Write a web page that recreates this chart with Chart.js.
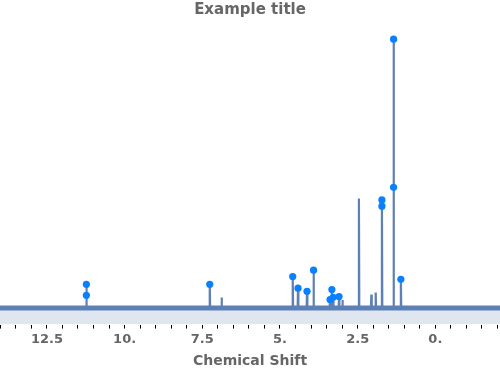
<!DOCTYPE html>
<html>
<head>
<meta charset="utf-8">
<script src="https://cdn.jsdelivr.net/npm/chart.js@4"></script>
<style>
  html, body { margin: 0; padding: 0; background: #fff; }
  #wrap { width: 500px; height: 371px; }
</style>
</head>
<body>
<div id="wrap"><canvas id="nmr"></canvas></div>
<script>
// spectrum peaks (shift in ppm, relative intensity)
var peakShifts  = [11.23, 7.26, 6.88, 4.59, 4.42, 4.13, 3.92, 3.39, 3.33, 3.29, 3.10, 2.99, 2.46, 2.06, 1.92, 1.72, 1.345, 1.11];
var peakHeights = [8.85, 8.85, 3.9, 11.7, 7.4, 6.25, 14.1, 3.2, 6.9, 4.0, 4.3, 3.0, 40.7, 5.0, 5.8, 40.2, 100, 10.7];

// picked peaks (markers)
var markShifts  = [11.23, 11.23, 7.26, 4.59, 4.42, 4.13, 3.92, 3.39, 3.33, 3.29, 3.10, 1.72, 1.72, 1.345, 1.345, 1.11];
var markHeights = [8.85, 4.76, 8.85, 11.7, 7.4, 6.25, 14.1, 3.2, 6.9, 4.0, 4.3, 40.2, 37.9, 100, 44.9, 10.7];

var tickLabels = {"12.5": "12.5", "10": "10.", "7.5": "7.5", "5": "5.", "2.5": "2.5", "0": "0."};

var halfWidth = 0.012;
var spectrum = [];
peakShifts.forEach(function(s, i){
  spectrum.push({x: s + halfWidth, y: 0});
  spectrum.push({x: s, y: peakHeights[i]});
  spectrum.push({x: s - halfWidth, y: 0});
});
var markers = markShifts.map(function(s, i){ return {x: s, y: markHeights[i]}; });

var ctx = document.getElementById("nmr").getContext('2d');
var myChart = new Chart(ctx, {
  type: 'line',
  data: {
    datasets: [{
      label: 'baseline',
      data: [{x: 14.2, y: 0}, {x: -2.2, y: 0}],
      borderColor: '#5e81b5',
      borderWidth: 5,
      pointRadius: 0,
      fill: 'start',
      backgroundColor: 'rgba(94,129,181,0.2)',
      order: 3
    }, {
      label: 'spectrum',
      data: spectrum,
      borderColor: '#5e81b5',
      borderWidth: 2.2,
      pointRadius: 0,
      fill: false,
      order: 2
    }, {
      type: 'scatter',
      label: 'peaks',
      data: markers,
      backgroundColor: '#0a80ff',
      borderWidth: 0,
      pointRadius: 3.6,
      order: 1
    }]
  },
  options: {
    responsive: true,
    maintainAspectRatio: false,
    animation: false,
    layout: { autoPadding: false, padding: {left: 0, right: 0, top: 0, bottom: 1} },
    plugins: {
      legend: { display: false },
      tooltip: { enabled: false },
      title: {
        display: true,
        text: 'Example title',
        color: '#666',
        font: { family: 'DejaVu Sans', size: 15, weight: 'bold' },
        padding: {top: 1, bottom: 4}
      }
    },
    scales: {
      x: {
        type: 'linear',
        reverse: true,
        min: -2.08,
        max: 14.01,
        afterBuildTicks: function(axis){
          var t = [];
          for (var v = -4; v <= 28; v++) t.push({value: v / 2});
          axis.ticks = t;
        },
        afterFit: function(axis){
          // no side padding, the plot runs to the canvas edges
          axis.paddingLeft = 0;
          axis.paddingRight = 0;
        },
        ticks: {
          autoSkip: false,
          maxRotation: 0,
          color: '#666',
          padding: 3,
          font: { family: 'DejaVu Sans', size: 13, weight: 'bold' },
          callback: function(v){
            var k = String(v);
            return tickLabels.hasOwnProperty(k) ? tickLabels[k] : '';
          }
        },
        grid: {
          drawOnChartArea: false,
          tickLength: 4,
          tickColor: '#000',
          tickWidth: 1
        },
        border: { display: false },
        title: {
          display: true,
          text: 'Chemical Shift',
          color: '#666',
          font: { family: 'DejaVu Sans', size: 14, weight: 'bold' },
          padding: {top: 3, bottom: 0}
        }
      },
      y: {
        display: false,
        min: -6.14,
        max: 106
      }
    }
  }
});
</script>
</body>
</html>
